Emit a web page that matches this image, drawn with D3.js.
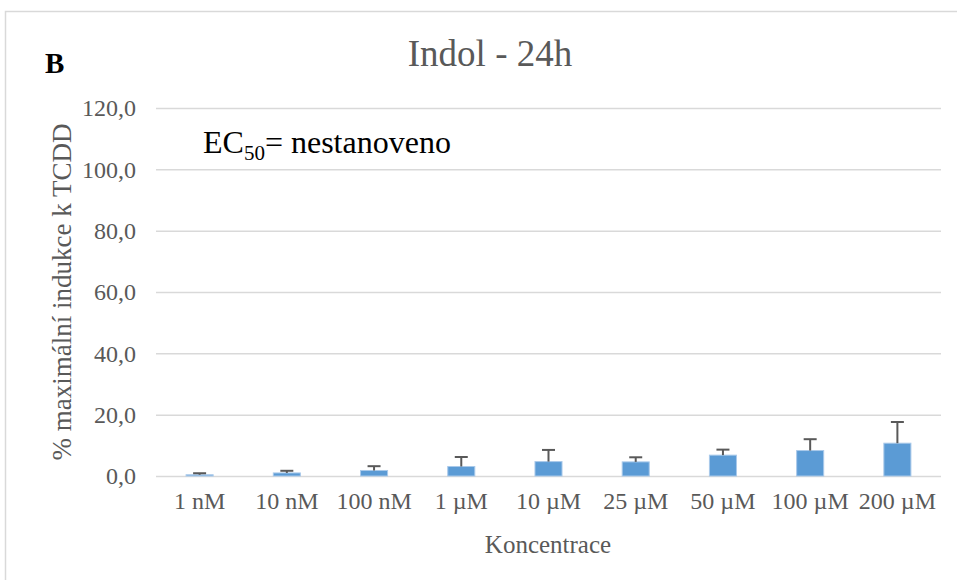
<!DOCTYPE html>
<html>
<head>
<meta charset="utf-8">
<script src="https://cdn.jsdelivr.net/npm/d3@7"></script>
<style>
  body { margin: 0; background: #fff; }
</style>
</head>
<body>
<div id="chart"></div>
<script>
// data
var categories = ["1 nM", "10 nM", "100 nM", "1 µM", "10 µM", "25 µM", "50 µM", "100 µM", "200 µM"];
var values = [0.4, 1.0, 1.8, 3.1, 4.7, 4.6, 6.8, 8.3, 10.7];
var errors = [0.5, 0.7, 1.4, 3.1, 3.8, 1.5, 1.8, 3.7, 6.9];
var yTicks = [0, 20, 40, 60, 80, 100, 120];

var FONT = "'Liberation Serif', 'Times New Roman', serif";

var W = 957, H = 580;
var margin = {top: 108, right: 16, bottom: 104, left: 156},
    width = W - margin.left - margin.right,
    height = H - margin.top - margin.bottom;

var svg = d3.select("#chart").append("svg")
    .attr("width", W)
    .attr("height", H)
    .style("font-family", FONT);

// chart border (only top + left visible in the reference)
svg.append("rect")
    .attr("x", 5.5).attr("y", 11.5)
    .attr("width", W + 20).attr("height", H + 20)
    .attr("fill", "none")
    .attr("stroke", "#d9d9d9")
    .attr("stroke-width", 1.5);

var g = svg.append("g")
    .attr("transform", "translate(" + margin.left + "," + margin.top + ")");

var x = d3.scaleBand()
    .domain(categories)
    .range([0, width])
    .paddingInner(0.69)
    .paddingOuter(0.345);

var y = d3.scaleLinear()
    .domain([0, 120])
    .range([height, 0]);

// gridlines + y labels
var yAxis = d3.axisLeft(y)
    .tickValues(yTicks)
    .tickSize(-width)
    .tickPadding(20)
    .tickFormat(function(d) { return d3.format(".1f")(d).replace(".", ","); });

var ya = g.append("g").call(yAxis);
ya.attr("font-family", null);
ya.select(".domain").remove();
ya.selectAll("line").attr("stroke", "#d9d9d9").attr("stroke-width", 1.5);
ya.selectAll("text")
    .attr("fill", "#595959")
    .style("font-family", FONT)
    .style("font-size", "24px");

// x labels
var xa = g.append("g")
    .attr("transform", "translate(0," + height + ")")
    .call(d3.axisBottom(x).tickSize(0).tickPadding(16));
xa.attr("font-family", null);
xa.select(".domain").remove();
xa.selectAll("text")
    .attr("fill", "#595959")
    .style("font-family", FONT)
    .style("font-size", "24px");

// bars
g.selectAll(".bar")
    .data(values)
  .enter().append("rect")
    .attr("class", "bar")
    .attr("x", function(d, i) { return x(categories[i]); })
    .attr("width", x.bandwidth())
    .attr("y", function(d) { return y(d); })
    .attr("height", function(d) { return y(0) - y(d); })
    .attr("fill", "#5b9bd5")
    .attr("stroke", "#a9c9ea")
    .attr("stroke-width", 1);

// error bars (upper only)
var eb = g.selectAll(".err")
    .data(values)
  .enter().append("g")
    .attr("class", "err")
    .attr("stroke", "#595959")
    .attr("stroke-width", 2);
eb.append("line")
    .attr("x1", function(d, i) { return x(categories[i]) + x.bandwidth() / 2; })
    .attr("x2", function(d, i) { return x(categories[i]) + x.bandwidth() / 2; })
    .attr("y1", function(d) { return y(d); })
    .attr("y2", function(d, i) { return y(d + errors[i]); });
eb.append("line")
    .attr("x1", function(d, i) { return x(categories[i]) + x.bandwidth() / 2 - 6.5; })
    .attr("x2", function(d, i) { return x(categories[i]) + x.bandwidth() / 2 + 6.5; })
    .attr("y1", function(d, i) { return y(d + errors[i]); })
    .attr("y2", function(d, i) { return y(d + errors[i]); });

// title
svg.append("text")
    .attr("x", 490).attr("y", 66)
    .attr("text-anchor", "middle")
    .attr("fill", "#595959")
    .style("font-family", FONT)
    .style("font-size", "37px")
    .text("Indol - 24h");

// panel letter
svg.append("text")
    .attr("x", 45).attr("y", 73)
    .attr("fill", "#000")
    .style("font-family", FONT)
    .style("font-size", "29px")
    .style("font-weight", "bold")
    .text("B");

// EC50 annotation
var ec = svg.append("text")
    .attr("x", 203).attr("y", 153)
    .attr("fill", "#000")
    .style("font-family", FONT)
    .style("font-size", "32px");
ec.append("tspan").text("EC");
ec.append("tspan").attr("dy", 7).style("font-size", "21px").text("50");
ec.append("tspan").attr("dy", -7).text("= nestanoveno");

// axis titles
svg.append("text")
    .attr("transform", "translate(71,292) rotate(-90)")
    .attr("text-anchor", "middle")
    .attr("fill", "#595959")
    .style("font-family", FONT)
    .style("font-size", "27px")
    .text("% maximální indukce k TCDD");

svg.append("text")
    .attr("x", 548).attr("y", 553)
    .attr("text-anchor", "middle")
    .attr("fill", "#595959")
    .style("font-family", FONT)
    .style("font-size", "25px")
    .text("Koncentrace");
</script>
</body>
</html>
